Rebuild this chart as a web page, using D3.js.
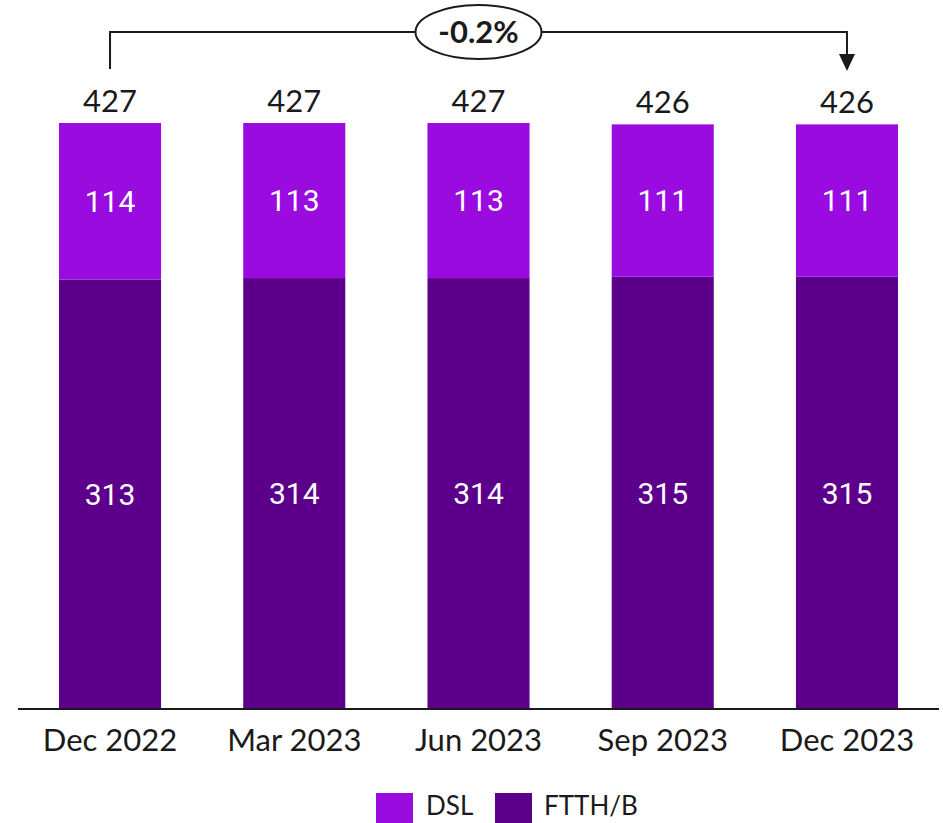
<!DOCTYPE html>
<html lang="en">
<head>
    <meta charset="UTF-8">
    <script src="https://d3js.org/d3.v7.min.js"></script>
    <title>DSL / FTTH/B</title>
    <style>
        body {
            margin: 0;
            background-color: #ffffff;
        }
        svg {
            display: block;
            font-family: Lato, "Noto Sans", sans-serif;
        }
    </style>
</head>
<body>

    <svg id="chart" width="943" height="823"></svg>

    <script>
        // data
        const categories = ["Dec 2022", "Mar 2023", "Jun 2023", "Sep 2023", "Dec 2023"];
        const ftthValues = [313, 314, 314, 315, 315];
        const dslValues = [114, 113, 113, 111, 111];
        const totalValues = [427, 427, 427, 426, 426];
        const changeLabel = "-0.2%";
        const seriesNames = ["DSL", "FTTH/B"];

        const dslColor = "#9a0be0";
        const ftthColor = "#5c008c";

        const svg = d3.select("#chart");

        const baseY = 709;
        const x = d3.scaleBand()
            .domain(categories)
            .range([18, 939])
            .paddingInner(0.446)
            .paddingOuter(0.2225);

        const y = d3.scaleLinear()
            .domain([0, 427])
            .range([baseY, 123]);

        const rows = categories.map((c, i) => ({
            cat: c,
            ftth: ftthValues[i],
            dsl: dslValues[i],
            total: totalValues[i]
        }));

        // FTTH/B (unten)
        svg.selectAll(".ftth")
            .data(rows)
            .join("rect")
            .attr("class", "ftth")
            .attr("x", d => x(d.cat))
            .attr("width", x.bandwidth())
            .attr("y", d => y(d.ftth))
            .attr("height", d => baseY - y(d.ftth))
            .attr("fill", ftthColor);

        // DSL (oben)
        svg.selectAll(".dsl")
            .data(rows)
            .join("rect")
            .attr("class", "dsl")
            .attr("x", d => x(d.cat))
            .attr("width", x.bandwidth())
            .attr("y", d => y(d.ftth + d.dsl))
            .attr("height", d => y(d.ftth) - y(d.ftth + d.dsl))
            .attr("fill", dslColor);

        // values inside bars
        svg.selectAll(".ftth-label")
            .data(rows)
            .join("text")
            .attr("x", d => x(d.cat) + x.bandwidth() / 2)
            .attr("y", d => (y(0) + y(d.ftth)) / 2)
            .attr("dy", "0.36em")
            .attr("text-anchor", "middle")
            .attr("fill", "white")
            .style("font-family", "Roboto, sans-serif")
            .style("font-size", "30px")
            .text(d => d.ftth);

        svg.selectAll(".dsl-label")
            .data(rows)
            .join("text")
            .attr("x", d => x(d.cat) + x.bandwidth() / 2)
            .attr("y", d => (y(d.ftth) + y(d.ftth + d.dsl)) / 2)
            .attr("dy", "0.36em")
            .attr("text-anchor", "middle")
            .attr("fill", "white")
            .style("font-family", "Roboto, sans-serif")
            .style("font-size", "30px")
            .text(d => d.dsl);

        // totals
        svg.selectAll(".total-label")
            .data(rows)
            .join("text")
            .attr("x", d => x(d.cat) + x.bandwidth() / 2)
            .attr("y", d => y(d.total) - 11)
            .attr("text-anchor", "middle")
            .attr("fill", "#1a1a1a")
            .style("font-size", "31px")
            .text(d => d.total);

        // x axis
        const xAxis = svg.append("g")
            .attr("transform", `translate(0, ${baseY})`)
            .call(d3.axisBottom(x).tickSize(0).tickPadding(20));
        xAxis.select(".domain")
            .attr("d", "M18,0H939")
            .attr("stroke", "#1a1a1a")
            .attr("stroke-width", 2);
        xAxis.selectAll("text")
            .attr("fill", "#1a1a1a")
            .style("font-family", "Lato, sans-serif")
            .style("font-size", "31px");

        // bracket with change
        const x0 = x(categories[0]) + x.bandwidth() / 2;
        const x1 = x(categories[categories.length - 1]) + x.bandwidth() / 2;
        const lineY = 32;
        svg.append("path")
            .attr("d", `M${x0},69V${lineY}H${x1}V56`)
            .attr("fill", "none")
            .attr("stroke", "#1a1a1a")
            .attr("stroke-width", 2);
        svg.append("path")
            .attr("d", `M${x1 - 8},54L${x1 + 8},54L${x1},71Z`)
            .attr("fill", "#1a1a1a");

        const midX = (x0 + x1) / 2;
        svg.append("ellipse")
            .attr("cx", midX)
            .attr("cy", lineY)
            .attr("rx", 63)
            .attr("ry", 27)
            .attr("fill", "white")
            .attr("stroke", "#1a1a1a")
            .attr("stroke-width", 2);
        svg.append("text")
            .attr("x", midX)
            .attr("y", lineY)
            .attr("dy", "0.36em")
            .attr("text-anchor", "middle")
            .attr("fill", "#1a1a1a")
            .style("font-weight", "bold")
            .style("font-size", "31px")
            .text(changeLabel);

        // legend
        const legendColors = [dslColor, ftthColor];
        const legendX = [376, 495];
        const legend = svg.selectAll(".legend")
            .data(seriesNames)
            .join("g")
            .attr("class", "legend")
            .attr("transform", (d, i) => `translate(${legendX[i]}, 793)`);
        legend.append("rect")
            .attr("width", 37)
            .attr("height", 32)
            .attr("fill", (d, i) => legendColors[i]);
        legend.append("text")
            .attr("x", (d, i) => i === 0 ? 50 : 49)
            .attr("y", 13)
            .attr("dy", "0.36em")
            .attr("fill", "#1a1a1a")
            .style("font-size", "26px")
            .text(d => d);
    </script>

</body>
</html>
